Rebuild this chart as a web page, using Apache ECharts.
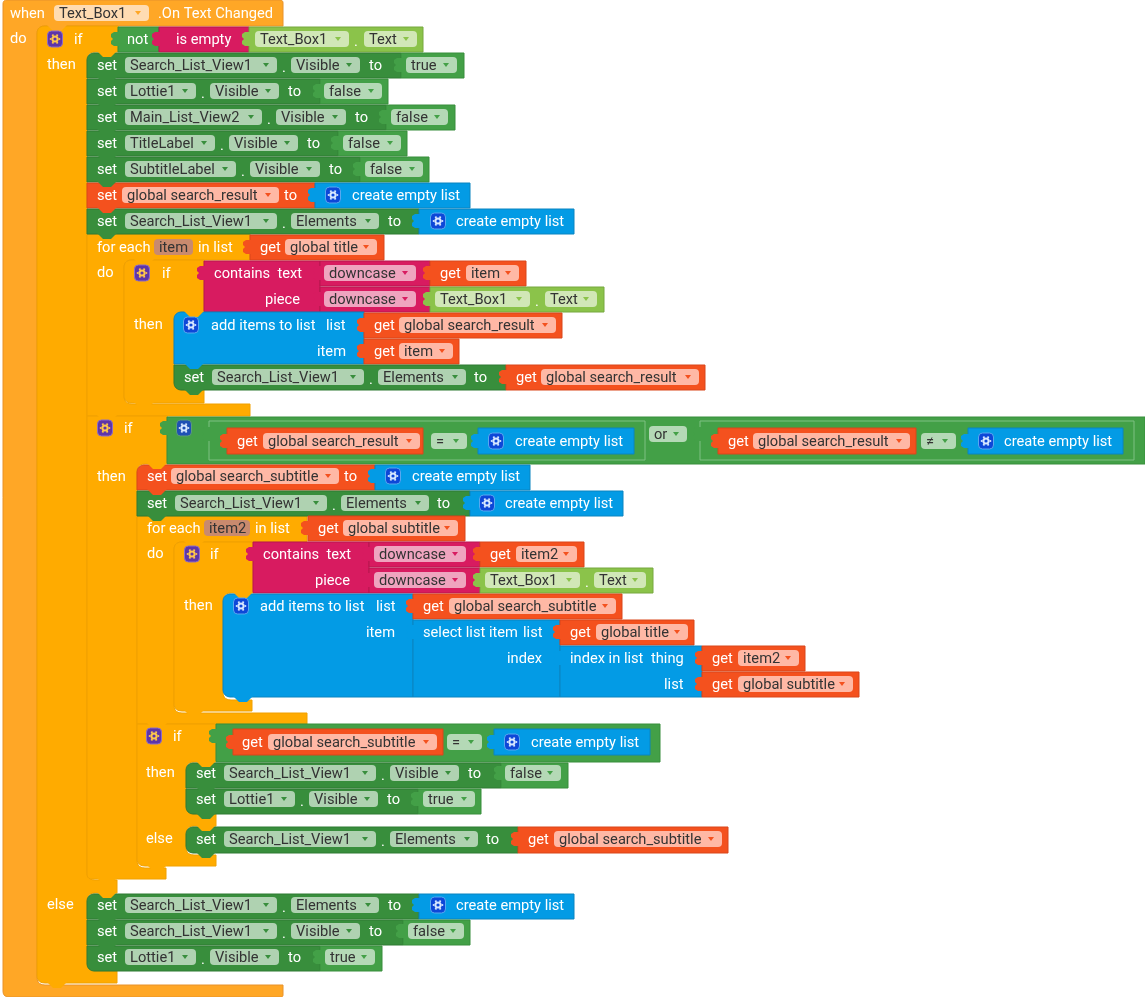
<!DOCTYPE html>
<html>
<head>
<meta charset="utf-8">
<style>html,body{margin:0;padding:0;background:#fff}#main{width:1145px;height:997px}</style>
<script src="https://cdn.jsdelivr.net/npm/echarts@6/dist/echarts.min.js"></script>
</head>
<body>
<div id="main"></div>
<script>
// c shaped control blocks: outline vertices [x, y, cornerRadius]
var eventFrame = [[3,0,4],[283,0,3],[283,26],[37,26,8],[37,985,8],[283,985],[283,997,2],[3,997,6]];
var ifFrame1 = [[37,26,8],[118,26],[118,52],[87,52,8],[87,880,8],[117,880],[117,893],[87,893,8],[87,971,8],[117,971],[117,983],[37,983,8]];
var forFrame1 = [[87,234],[250,234],[250,260],[124,260,8],[124,404,8],[250,404],[250,416],[87,416]];
var ifFrame2 = [[124,260,8],[204,260],[204,312],[174,312,8],[174,390,8],[204,390],[204,403],[124,403,8]];
var ifFrame3 = [[87,416],[167,416],[167,464],[137,464,8],[137,868,8],[166,868],[166,879],[87,879,5]];
var forFrame2 = [[137,516],[307,516],[307,542],[174,542,8],[174,713,8],[307,713],[307,724],[137,724]];
var ifFrame4 = [[174,542,8],[253,542],[253,593],[223,593,8],[223,700,8],[252,700],[252,711],[174,711,8]];
var ifFrame5 = [[137,724],[216,724],[216,762],[186,762,8],[186,814,8],[216,814],[216,826],[186,826,8],[186,855,8],[216,855],[216,866],[137,866,8]];
var frames = [
  [eventFrame,'event'], [ifFrame1,'control'], [forFrame1,'control'], [ifFrame2,'control'],
  [ifFrame3,'control'], [forFrame2,'control'], [ifFrame4,'control'], [ifFrame5,'control']
];

// [x0, x1, y0, y1, kind, roundedCorners]
var blocks = [
  [118,159,27,52,'logic'], [159,249,27,52,'math'], [249,423,27,52,'text'],
  [87,401,53,78,'set','t'], [401,464,53,78,'logic'],
  [87,320,79,104,'set'], [320,388,79,104,'logic'],
  [87,386,105,130,'set'], [386,455,105,130,'logic'],
  [87,338,131,156,'set'], [338,407,131,156,'logic'],
  [87,360,157,182,'set'], [360,429,157,182,'logic'],
  [87,315,183,208,'vari'], [315,470,183,208,'list'],
  [87,419,209,234,'set'], [419,574,209,234,'list'],
  [250,384,235,260,'vari'],
  [204,320,261,312,'math'], [320,430,261,286,'math'], [430,526,261,286,'vari'],
  [320,430,287,312,'math'], [430,604,287,312,'text'],
  [174,364,312,364,'list','t'], [364,562,313,338,'vari'], [364,459,339,364,'vari'],
  [174,506,365,390,'set','b'], [506,705,365,390,'vari'],
  [167,1145,417,464,'logic'],
  [209,645,421,460,'logicIn'], [227,423,428,454,'vari'], [478,634,428,454,'list'],
  [700,1134,421,460,'logicIn'], [718,916,428,454,'vari'], [968,1123,428,454,'list'],
  [137,375,465,490,'vari','t'], [375,530,465,490,'list'],
  [137,470,491,516,'set'], [470,623,491,516,'list'],
  [308,465,516,541,'vari'],
  [253,369,542,593,'math'], [369,480,542,567,'math'], [480,584,542,567,'vari'],
  [369,480,568,593,'math'], [480,653,568,593,'text'],
  [223,413,594,697,'list','tb'], [413,622,594,619,'vari'],
  [413,560,620,697,'list'], [560,694,620,645,'vari'],
  [560,702,646,697,'list'], [702,805,646,671,'vari'], [702,859,672,697,'vari'],
  [216,660,724,762,'logic'], [233,443,729,755,'vari'], [494,650,729,755,'list'],
  [186,501,763,788,'set','t'], [501,568,763,788,'logic'],
  [186,418,789,814,'set','b'], [418,481,789,814,'logic'],
  [186,518,827,853,'set','tb'], [518,728,827,853,'vari'],
  [87,419,894,919,'set','t'], [419,574,894,919,'list'],
  [87,403,920,945,'set'], [403,470,920,945,'logic'],
  [87,320,946,971,'set','b'], [320,382,946,971,'logic']
];

// output tabs on the left edge of value blocks: [x, y, kind]
var tabs = [
  [118,39,'logic'], [159,39,'math'], [249,39,'text'], [401,65,'logic'], [320,91,'logic'], [386,117,'logic'],
  [338,143,'logic'], [360,169,'logic'], [315,195,'list'], [419,221,'list'], [250,247,'vari'],
  [204,273,'math'], [320,273,'math'], [430,273,'vari'], [320,299,'math'], [430,299,'text'],
  [364,325,'vari'], [364,351,'vari'], [506,377,'vari'], [167,428,'logic'], [209,434,'logicIn'],
  [227,441,'vari'], [478,441,'list'], [700,434,'logicIn'], [718,441,'vari'], [968,441,'list'],
  [375,476,'list'], [470,503,'list'], [308,528,'vari'], [253,554,'math'], [369,554,'math'],
  [480,554,'vari'], [369,580,'math'], [480,580,'text'], [413,606,'vari'], [413,632,'list'],
  [560,632,'vari'], [560,658,'list'], [702,658,'vari'], [702,684,'vari'], [216,736,'logic'],
  [233,742,'vari'], [494,742,'list'], [501,773,'logic'], [418,799,'logic'], [518,839,'vari'],
  [419,905,'list'], [403,931,'logic'], [320,957,'logic']
];

// dips under statement blocks: [x, y, kind]
var notches = [
  [37,26,'event'], [37,983,'control'],
  [87,78,'set'], [87,104,'set'], [87,130,'set'], [87,156,'set'], [87,182,'set'], [87,208,'vari'], [87,234,'set'],
  [87,52,'control'], [124,260,'control'], [174,312,'control'], [124,403,'control'], [174,364,'list'], [174,390,'set'],
  [87,416,'control'], [137,464,'control'], [137,490,'vari'], [137,516,'set'], [174,542,'control'], [223,593,'control'],
  [174,711,'control'], [223,697,'list'], [137,724,'control'], [186,762,'control'], [186,788,'set'], [186,814,'set'],
  [186,826,'control'], [186,853,'set'], [137,866,'control'], [87,879,'control'], [87,893,'control'], [87,919,'set'], [87,945,'set']
];

// dropdown fields: [x0, x1, yCenter, text, kind]
var pills = [
  [54,149,13,'Text_Box1','event'], [255,349,39,'Text_Box1','text'], [364,417,39,'Text','text'],
  [125,277,65,'Search_List_View1','set'], [291,360,65,'Visible','set'], [406,457,65,'true','logic'],
  [125,196,91,'Lottie1','set'], [210,279,91,'Visible','set'], [324,382,91,'false','logic'],
  [125,262,117,'Main_List_View2','set'], [276,346,117,'Visible','set'], [391,448,117,'false','logic'],
  [125,215,143,'TitleLabel','set'], [229,298,143,'Visible','set'], [343,401,143,'false','logic'],
  [125,236,169,'SubtitleLabel','set'], [250,320,169,'Visible','set'], [365,423,169,'false','logic'],
  [122,279,195,'global search_result','vari'],
  [125,277,221,'Search_List_View1','set'], [291,379,221,'Elements','set'],
  [154,193,247,'item','name'], [285,377,247,'global title','vari'],
  [324,416,273,'downcase','math'], [466,519,273,'item','vari'],
  [324,416,299,'downcase','math'], [435,530,299,'Text_Box1','text'], [545,597,299,'Text','text'],
  [399,556,325,'global search_result','vari'], [399,453,351,'item','vari'],
  [212,364,377,'Search_List_View1','set'], [378,466,377,'Elements','set'], [541,699,377,'global search_result','vari'],
  [263,420,441,'global search_result','vari'], [431,467,441,'=','logic'], [649,687,434,'or','logic'],
  [753,910,441,'global search_result','vari'], [921,956,441,'\u2260','logic'],
  [171,339,476,'global search_subtitle','vari'],
  [175,327,503,'Search_List_View1','set'], [341,429,503,'Elements','set'],
  [204,250,528,'item2','name'], [343,458,528,'global subtitle','vari'],
  [374,466,554,'downcase','math'], [516,577,554,'item2','vari'],
  [374,466,580,'downcase','math'], [485,580,580,'Text_Box1','text'], [594,646,580,'Text','text'],
  [449,616,606,'global search_subtitle','vari'], [596,688,632,'global title','vari'],
  [738,799,658,'item2','vari'], [738,853,684,'global subtitle','vari'],
  [268,437,742,'global search_subtitle','vari'], [447,482,742,'=','logic'],
  [224,376,773,'Search_List_View1','set'], [390,459,773,'Visible','set'], [505,561,773,'false','logic'],
  [224,295,799,'Lottie1','set'], [309,378,799,'Visible','set'], [423,475,799,'true','logic'],
  [224,376,839,'Search_List_View1','set'], [390,478,839,'Elements','set'], [554,722,839,'global search_subtitle','vari'],
  [125,277,905,'Search_List_View1','set'], [291,379,905,'Elements','set'],
  [125,277,931,'Search_List_View1','set'], [291,360,931,'Visible','set'], [408,464,931,'false','logic'],
  [125,196,957,'Lottie1','set'], [210,279,957,'Visible','set'], [325,375,957,'true','logic']
];

// white block text: [x, yCenter, text]
var labels = [
  [10,13,'when'], [158,13,'.On Text Changed'], [10,38,'do'], [74,39,'if'], [127,39,'not'], [47,64,'then'], [176,39,'is empty'],
  [354,41,'.'], [97,65,'set'], [369,65,'to'], [282,67,'.'], [97,91,'set'], [288,91,'to'], [201,93,'.'],
  [97,117,'set'], [355,117,'to'], [267,119,'.'], [97,143,'set'], [307,143,'to'], [220,145,'.'],
  [97,169,'set'], [329,169,'to'], [241,171,'.'], [97,195,'set'], [284,195,'to'], [352,195,'create empty list'],
  [97,221,'set'], [388,221,'to'], [282,223,'.'], [456,221,'create empty list'],
  [97,247,'for each'], [198,247,'in list'], [260,247,'get'], [97,272,'do'], [162,273,'if'], [214,273,'contains  text'], [265,299,'piece'],
  [440,273,'get'], [535,301,'.'], [134,324,'then'], [211,325,'add items to list'], [326,325,'list'], [317,351,'item'],
  [374,325,'get'], [374,351,'get'], [184,377,'set'], [369,379,'.'], [474,377,'to'], [516,377,'get'],
  [124,428,'if'], [237,441,'get'], [515,441,'create empty list'], [728,441,'get'], [1004,441,'create empty list'],
  [97,476,'then'], [147,476,'set'], [344,476,'to'], [412,476,'create empty list'],
  [147,503,'set'], [332,505,'.'], [437,503,'to'], [505,503,'create empty list'],
  [147,528,'for each'], [255,528,'in list'], [318,528,'get'], [147,553,'do'], [210,554,'if'], [263,554,'contains  text'], [315,580,'piece'],
  [490,554,'get'], [585,582,'.'], [184,605,'then'], [260,606,'add items to list'], [376,606,'list'], [366,632,'item'],
  [423,606,'get'], [423,632,'select list item'], [523,632,'list'], [507,658,'index'], [570,658,'index in list'], [651,658,'thing'], [664,684,'list'],
  [570,632,'get'], [712,658,'get'], [712,684,'get'],
  [173,736,'if'], [242,742,'get'], [531,742,'create empty list'], [146,772,'then'], [196,773,'set'], [381,775,'.'], [468,773,'to'],
  [196,799,'set'], [300,801,'.'], [387,799,'to'], [146,838,'else'], [196,839,'set'], [381,841,'.'], [486,839,'to'], [528,839,'get'],
  [47,904,'else'], [97,905,'set'], [282,907,'.'], [388,905,'to'], [456,905,'create empty list'],
  [97,931,'set'], [282,933,'.'], [369,931,'to'], [97,957,'set'], [201,959,'.'], [288,957,'to']
];

// mutator buttons: [x, y, kind]
var gears = [
  [55,39,'control'], [142,273,'control'], [105,428,'control'], [192,554,'control'], [154,736,'control'],
  [333,195,'list'], [438,221,'list'], [191,325,'list'], [496,441,'list'], [986,441,'list'],
  [393,476,'list'], [487,503,'list'], [241,606,'list'], [512,742,'list'], [438,905,'list'], [184,428,'logic']
];

var looks = {
  event:   {fill:'#FFA726', edge:'#E8922A', pill:'#FFDCB2', arrow:'#FFA726'},
  control: {fill:'#FFAB00', edge:'#F0A000', pill:'#FFE0A0', arrow:'#FFAB00'},
  set:     {fill:'#388E3C', edge:'#2F7A33', pill:'#AFD2B1', arrow:'#388E3C'},
  logic:   {fill:'#43A047', edge:'#388E3C', pill:'#B4D9B6', arrow:'#43A047'},
  logicIn: {fill:'#43A047', edge:'#7FC083', pill:'#B4D9B6', arrow:'#43A047'},
  text:    {fill:'#8BC34A', edge:'#76A83E', pill:'#D1E7B7', arrow:'#8BC34A'},
  math:    {fill:'#D81B60', edge:'#B8174F', pill:'#EFA4BF', arrow:'#D81B60'},
  list:    {fill:'#039BE5', edge:'#0A84C0', pill:'#9AD7F5', arrow:'#039BE5'},
  vari:    {fill:'#F4511E', edge:'#D9461A', pill:'#FFB8A5', arrow:'#F4511E'},
  name:    {fill:'#FFAB00', edge:'#F0A000', pill:'#C98A6E', arrow:null}
};
var gearLooks = {
  control: {box:'#5E35A8', edge:'#8E6CC8', cog:'#FFC84A'},
  list:    {box:'#0D47D8', edge:'#58A8F0', cog:'#D8E8FF'},
  logic:   {box:'#1E50B4', edge:'#5C9C78', cog:'#D8E8FF'}
};
var blockFont = '14.67px Roboto';

function roundPoly(pts, vals) {
  // replaces every cornered vertex with a short curve
  var out = [];
  var n = pts.length;
  pts.forEach(function(p, i) {
    var r = vals[i][2];
    if (!r) { out.push(p); return; }
    var a = pts[(i + n - 1) % n], b = pts[(i + 1) % n];
    var la = Math.hypot(a[0] - p[0], a[1] - p[1]), lb = Math.hypot(b[0] - p[0], b[1] - p[1]);
    var s = [p[0] + (a[0] - p[0]) * r / la, p[1] + (a[1] - p[1]) * r / la];
    var e = [p[0] + (b[0] - p[0]) * r / lb, p[1] + (b[1] - p[1]) * r / lb];
    for (var t = 0; t <= 1.001; t += 0.2) {
      var u = 1 - t;
      out.push([u * u * s[0] + 2 * u * t * p[0] + t * t * e[0], u * u * s[1] + 2 * u * t * p[1] + t * t * e[1]]);
    }
  });
  return out;
}

function frameItem(params, api) {
  var f = frames[params.dataIndex];
  var pts = f[0].map(function(v) { return api.coord([v[0], v[1]]); });
  return {type:'polygon', shape:{points:roundPoly(pts, f[0])},
    style:{fill:looks[f[1]].fill, stroke:looks[f[1]].edge, lineWidth:1}};
}

function blockItem(params, api) {
  var b = blocks[params.dataIndex];
  var p0 = api.coord([b[0], b[2]]), p1 = api.coord([b[1], b[3]]);
  var c = b[5] || '';
  var tl = c.indexOf('t') >= 0 ? 7 : 0, bl = c.indexOf('b') >= 0 ? 7 : 0;
  return {type:'rect', shape:{x:p0[0], y:p0[1], width:p1[0]-p0[0], height:p1[1]-p0[1], r:[tl,0,0,bl]},
    style:{fill:looks[b[4]].fill, stroke:looks[b[4]].edge, lineWidth:1}};
}

function tabItem(params, api) {
  var t = tabs[params.dataIndex];
  var p = api.coord([t[0], t[1]]);
  var x = p[0], y = p[1];
  return {type:'polygon', shape:{points:[[x+1,y-7],[x-4,y-7],[x-7,y-5],[x-7,y-2],[x-5,y],[x-7,y+2],[x-7,y+5],[x-4,y+7],[x+1,y+7]]},
    style:{fill:looks[t[2]].fill}};
}

function notchItem(params, api) {
  var t = notches[params.dataIndex];
  var p = api.coord([t[0], t[1]]);
  var x = p[0], y = p[1];
  return {type:'polygon', shape:{points:[[x+10,y-1],[x+30,y-1],[x+24,y+5],[x+16,y+5]]},
    style:{fill:looks[t[2]].fill}};
}

function pillItem(params, api) {
  var d = pills[params.dataIndex];
  var p0 = api.coord([d[0], d[2]]), p1 = api.coord([d[1], d[2]]);
  var look = looks[d[4]];
  var kids = [
    {type:'rect', shape:{x:p0[0], y:p0[1]-8, width:p1[0]-p0[0], height:16, r:4}, style:{fill:look.pill}},
    {type:'text', style:{text:d[3], x:p0[0]+5, y:p0[1]+1, fill:'#333', font:blockFont, verticalAlign:'middle'}}
  ];
  if (look.arrow) {
    var ax = p1[0]-11;
    kids.push({type:'polygon', shape:{points:[[ax-3,p0[1]-2],[ax+3,p0[1]-2],[ax,p0[1]+2]]}, style:{fill:look.arrow}});
  }
  return {type:'group', children:kids};
}

function labelItem(params, api) {
  var d = labels[params.dataIndex];
  var p = api.coord([d[0], d[1]]);
  return {type:'text', style:{text:d[2], x:p[0], y:p[1]+1, fill:'#fff', font:blockFont, verticalAlign:'middle'}};
}

function gearItem(params, api) {
  var d = gears[params.dataIndex];
  var p = api.coord([d[0], d[1]]);
  var look = gearLooks[d[2]];
  var x = p[0], y = p[1];
  var kids = [
    {type:'rect', shape:{x:x-7.5, y:y-8, width:15, height:16, r:4}, style:{fill:look.box, stroke:look.edge, lineWidth:1}},
    {type:'circle', shape:{cx:x, cy:y, r:2.6}, style:{fill:'none', stroke:look.cog, lineWidth:2}}
  ];
  for (var i = 0; i < 6; i++) {
    var a = i * Math.PI / 3;
    kids.push({type:'line', shape:{x1:x+Math.cos(a)*3.5, y1:y+Math.sin(a)*3.5, x2:x+Math.cos(a)*5.2, y2:y+Math.sin(a)*5.2},
      style:{stroke:look.cog, lineWidth:1.8}});
  }
  return {type:'group', children:kids};
}

function layer(list, fn) {
  return {type:'custom', data:list.map(function(d, i) { return [i]; }), renderItem:fn, silent:true,
    clip:false, animation:false, encode:{x:0}};
}

var myChart = echarts.init(document.getElementById('main'));
myChart.setOption({
  animation: false,
  backgroundColor: '#fff',
  grid: {left:0, right:0, top:0, bottom:0},
  xAxis: {type:'value', min:0, max:1145, show:false},
  yAxis: {type:'value', min:0, max:997, inverse:true, show:false},
  series: [
    layer(frames, frameItem),
    layer(blocks, blockItem),
    layer(tabs, tabItem),
    layer(notches, notchItem),
    layer(pills, pillItem),
    layer(labels, labelItem),
    layer(gears, gearItem)
  ]
});
</script>
</body>
</html>
